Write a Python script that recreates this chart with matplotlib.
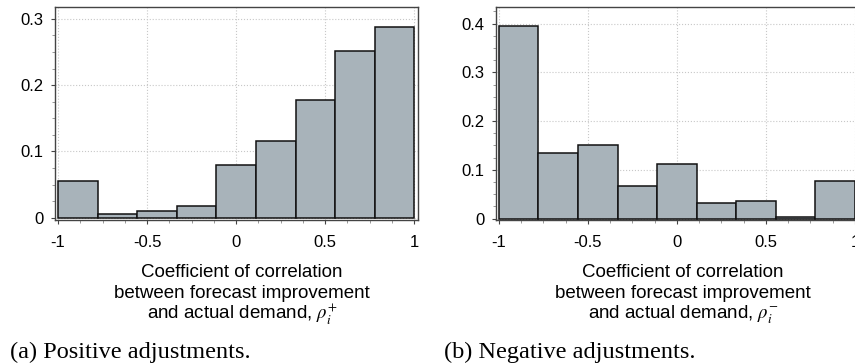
import matplotlib
matplotlib.use('Agg')
import matplotlib.pyplot as plt
import numpy as np
from matplotlib.ticker import MultipleLocator

plt.rcParams['font.family'] = ['Liberation Sans', 'DejaVu Sans']
plt.rcParams['mathtext.fontset'] = 'stix'

# histogram data (relative frequency), 9 bins over [-1, 1]
bin_edges = np.linspace(-1, 1, 10)
pos_freq = [0.055, 0.0055, 0.010, 0.018, 0.080, 0.116, 0.177, 0.252, 0.288]
neg_freq = [0.395, 0.134, 0.151, 0.067, 0.113, 0.032, 0.036, 0.004, 0.078]
x_ticks = [-1, -0.5, 0, 0.5, 1]
x_tick_labels = ['-1', '-0.5', '0', '0.5', '1']
captions = ['(a) Positive adjustments.', '(b) Negative adjustments.']
label_lines = ['Coefficient of correlation',
               'between forecast improvement']
last_lines = [r'and actual demand, $\rho_i^{+}$',
              r'and actual demand, $\rho_i^{-}$']

bar_color = '#a8b3ba'
spine_color = '#444444'

fig = plt.figure(figsize=(8.55, 3.63), dpi=100)

def draw(ax, freq, ylim, yticks):
    width = bin_edges[1] - bin_edges[0]
    ax.bar(bin_edges[:-1], freq, width=width, align='edge', color=bar_color,
           edgecolor='#111111', linewidth=1.1, zorder=3)
    ax.set_xlim(-1.017, 1.021)
    ax.set_ylim(*ylim)
    ax.set_xticks(x_ticks)
    ax.set_xticklabels(x_tick_labels)
    ax.set_yticks(yticks)
    ax.set_yticklabels(['0' if t == 0 else '%g' % t for t in yticks])
    ax.xaxis.set_minor_locator(MultipleLocator(0.125))
    ax.yaxis.set_minor_locator(MultipleLocator(0.025))
    ax.grid(True, which='major', linestyle=':', color='#c8c8c8', linewidth=0.8, zorder=0)
    ax.tick_params(which='major', length=3, width=0.8, color=spine_color,
                   labelsize=12, pad=5)
    ax.tick_params(axis='x', which='major', pad=8)
    ax.tick_params(which='minor', length=2, width=0.6, color='#888888')
    for s in ax.spines.values():
        s.set_color(spine_color)
        s.set_linewidth(1.0)

ax1 = fig.add_axes([0.0643, 0.394, 0.4246, 0.5868])
draw(ax1, pos_freq, (-0.0035, 0.318), [0, 0.1, 0.2, 0.3])

ax2 = fig.add_axes([0.5798, 0.394, 0.4246, 0.5868])
draw(ax2, neg_freq, (-0.0027, 0.434), [0, 0.1, 0.2, 0.3, 0.4])

centers = [242 / 855, 683 / 855]
for cx, last in zip(centers, last_lines):
    fig.text(cx, 1 - 277 / 363, label_lines[0], ha='center', va='baseline', fontsize=13.5)
    fig.text(cx, 1 - 298 / 363, label_lines[1], ha='center', va='baseline', fontsize=13.5)
    fig.text(cx, 1 - 319 / 363, last, ha='center', va='baseline', fontsize=13.5)

fig.text(10 / 855, 1 - 352 / 363, captions[0], ha='left', va='center',
         fontsize=17.5, family='Liberation Serif')
fig.text(444 / 855, 1 - 352 / 363, captions[1], ha='left', va='center',
         fontsize=17.5, family='Liberation Serif')

fig.savefig('out.png', dpi=100)
